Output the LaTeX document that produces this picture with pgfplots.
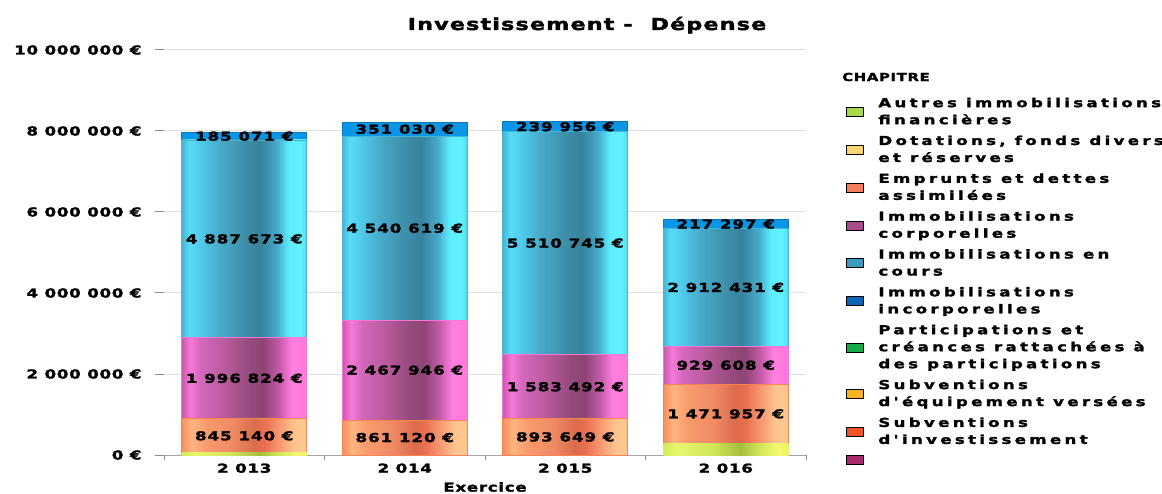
\documentclass[border=0pt]{standalone}
\usepackage{pgfplots}
\pgfplotsset{compat=1.18}
\usepackage{pgfplotstable}
\usepackage{fontspec}
\setmainfont{DejaVu Sans}
\newfontfamily\labfont{DejaVu Sans Bold}[FakeStretch=1.35, LetterSpace=8, FakeBold=2.2]
\newfontfamily\legfont{DejaVu Sans Bold}[FakeStretch=1.35, LetterSpace=27, FakeBold=2.0]
\newfontfamily\tickfont{DejaVu Sans Bold}[FakeStretch=1.35, LetterSpace=6, FakeBold=2.0]
\newfontfamily\titlefont{DejaVu Sans Bold}[FakeStretch=1.35, LetterSpace=7, FakeBold=2.4]

% legend colours
\definecolor{legAutres}{HTML}{A8D84C}
\definecolor{legDotations}{HTML}{FCD470}
\definecolor{legEmprunts}{HTML}{F47E5C}
\definecolor{legCorp}{HTML}{A84E8C}
\definecolor{legCours}{HTML}{3C9CC0}
\definecolor{legIncorp}{HTML}{0A64B8}
\definecolor{legParticip}{HTML}{18AA48}
\definecolor{legSubvEq}{HTML}{F9B220}
\definecolor{legSubvInv}{HTML}{EE5426}
\definecolor{legAutre}{HTML}{A82C6E}

% bar shading colours
\definecolor{cy0}{HTML}{48B4D4}\definecolor{cy1}{HTML}{58DCF8}
\definecolor{cy2}{HTML}{50CCEC}\definecolor{cy3}{HTML}{48AACA}
\definecolor{cy4}{HTML}{3D8FAA}\definecolor{cy5}{HTML}{38829C}
\definecolor{cy6}{HTML}{46AACB}\definecolor{cy7}{HTML}{5EEEFF}
\definecolor{cy8}{HTML}{60F2FF}\definecolor{cy9}{HTML}{52D8F0}
\definecolor{pk0}{HTML}{C85AAE}\definecolor{pk1}{HTML}{F878D8}
\definecolor{pk2}{HTML}{D468BC}\definecolor{pk3}{HTML}{B85A9C}
\definecolor{pk4}{HTML}{944A7C}\definecolor{pk5}{HTML}{8E4474}
\definecolor{pk6}{HTML}{C45CA8}\definecolor{pk7}{HTML}{FF7EE0}
\definecolor{pk8}{HTML}{FF78D8}
\definecolor{or0}{HTML}{F8905E}\definecolor{or1}{HTML}{FFB482}
\definecolor{or2}{HTML}{F89A6C}\definecolor{or3}{HTML}{F08A64}
\definecolor{or4}{HTML}{DA6C4C}\definecolor{or5}{HTML}{E87050}
\definecolor{or6}{HTML}{F89872}\definecolor{or7}{HTML}{FFC48E}
\definecolor{or8}{HTML}{FFC890}
\definecolor{gr0}{HTML}{D4EC58}\definecolor{gr1}{HTML}{E6F66C}
\definecolor{gr2}{HTML}{D0E45A}\definecolor{gr3}{HTML}{A4BE3C}
\definecolor{gr4}{HTML}{D4E85A}\definecolor{gr5}{HTML}{F2F870}
\definecolor{gr6}{HTML}{ECF46A}
\definecolor{blTop}{HTML}{0A96E6}

\pgfdeclarehorizontalshading{barCours}{100bp}{color(0bp)=(cy0); color(25bp)=(cy0);
  color(28bp)=(cy1); color(32bp)=(cy2); color(40bp)=(cy3); color(50bp)=(cy4);
  color(56.5bp)=(cy5); color(63bp)=(cy6); color(68bp)=(cy7); color(72.5bp)=(cy8);
  color(75bp)=(cy9); color(100bp)=(cy9)}
\pgfdeclarehorizontalshading{barCorp}{100bp}{color(0bp)=(pk0); color(25bp)=(pk0);
  color(28.5bp)=(pk1); color(32.5bp)=(pk2); color(42.5bp)=(pk3); color(52.5bp)=(pk4);
  color(57.5bp)=(pk5); color(64bp)=(pk6); color(69bp)=(pk7);
  color(75bp)=(pk8); color(100bp)=(pk8)}
\pgfdeclarehorizontalshading{barEmprunts}{100bp}{color(0bp)=(or0); color(25bp)=(or0);
  color(29bp)=(or1); color(35bp)=(or2); color(45bp)=(or3); color(54bp)=(or4);
  color(58bp)=(or5); color(64bp)=(or6); color(70bp)=(or7);
  color(75bp)=(or8); color(100bp)=(or8)}
\pgfdeclarehorizontalshading{barAutres}{100bp}{color(0bp)=(gr0); color(25bp)=(gr0);
  color(31bp)=(gr1); color(45bp)=(gr2); color(56bp)=(gr3); color(64bp)=(gr4);
  color(71bp)=(gr5); color(75bp)=(gr6); color(100bp)=(gr6)}

\pgfplotstableread{
x  autres  emprunts  corp     cours    incorp
0  50000   845140    1996824  4887673  185071
1  0       861120    2467946  4540619  351030
2  0       893649    1583492  5510745  239956
3  280000  1471957   929608   2912431  217297
}\depenses

\pgfplotsset{
  base axis/.style={
    at={(164pt,38pt)}, anchor=south west,
    scale only axis, width=642pt, height=405pt,
    ybar stacked, bar width=125pt,
    xmin=-0.5, xmax=3.5, ymin=0, ymax=10000000,
  },
  % value labels, centred in their segment
  seg labels/.style={
    point meta=explicit symbolic,
    nodes near coords={\pgfmathprintnumber[fixed, precision=0, 1000 sep={\ }, assume math mode=true]{\pgfplotspointmeta}\ €},
    every node near coord/.append style={anchor=center, text=black, inner sep=0pt,
      font=\fontsize{12.3}{14}\labfont},
  },
  autres bar/.style={forget plot, draw=none, shade, shading=barAutres, shading angle=0},
  emprunts bar/.style={forget plot, draw=or0!90!red, line width=0.8pt, shade, shading=barEmprunts, shading angle=0, seg labels},
  corp bar/.style={forget plot, draw=pk7!80!pk0, line width=0.8pt, shade, shading=barCorp, shading angle=0, seg labels},
  cours bar/.style={forget plot, draw=cy0, line width=0.8pt, shade, shading=barCours, shading angle=0, seg labels},
  incorp bar/.style={forget plot, draw=blTop!80!black, line width=0.8pt, fill=blTop, seg labels},
  chap/.style={legend image code/.code={\fill[##1] (0pt,-4.5pt) rectangle (17pt,4.5pt);}},
}

% the five stacked segments of one year (x between #1 and #2)
\newcommand\yearbars[2]{%
  \addplot[autres bar, restrict x to domain=#1:#2] table[x=x, y=autres] {\depenses};
  \addplot[emprunts bar, restrict x to domain=#1:#2] table[x=x, y=emprunts, meta=emprunts] {\depenses};
  \addplot[corp bar, restrict x to domain=#1:#2] table[x=x, y=corp, meta=corp] {\depenses};
  \addplot[cours bar, restrict x to domain=#1:#2] table[x=x, y=cours, meta=cours] {\depenses};
  \addplot[incorp bar, restrict x to domain=#1:#2] table[x=x, y=incorp, meta=incorp] {\depenses};
}

\begin{document}
\begin{tikzpicture}
\useasboundingbox (0,0) rectangle (1162pt,493pt);
\begin{axis}[
  base axis,
  xtick={0,1,2,3}, xticklabels={2 013, 2 014, 2 015, 2 016},
  minor xtick={-0.5,0.5,1.5,2.5,3.5},
  ytick={0,2000000,4000000,6000000,8000000,10000000},
  yticklabels={0 €, 2 000 000 €, 4 000 000 €, 6 000 000 €, 8 000 000 €, 10 000 000 €},
  scaled y ticks=false,
  axis x line*=bottom, axis y line*=left,
  y axis line style={draw=none},
  x axis line style={draw=black!35, line width=1pt},
  ymajorgrids, grid style={draw=black!12, line width=1pt},
  tick align=outside,
  major x tick style={draw=none},
  minor x tick style={draw=black!45, line width=0.8pt}, minor tick length=5pt,
  y tick style={draw=black!45, line width=1pt}, major tick length=9pt,
  ticklabel style={font=\fontsize{12.3}{14}\tickfont, text=black},
  yticklabel style={xshift=-10pt},
  xticklabel style={yshift=4pt},
  xlabel={Exercice},
  xlabel style={font=\fontsize{12.3}{14}\tickfont, at={(axis description cs:0.5,0)}, anchor=center, yshift=-32pt},
  legend cell align=left,
  legend style={at={(axis description cs:1.0623,0.882)}, anchor=north west,
    draw=none, fill=none, inner sep=0pt, outer sep=0pt, row sep=10pt,
    font=\fontsize{12.3}{17}\legfont,
    cells={align=left},
    nodes={inner sep=0pt},
    /tikz/every odd column/.append style={column sep=15pt}},
]
\yearbars{-0.2}{0.2}

\addlegendimage{chap, fill=legAutres}
\addlegendentry{Autres immobilisations\\financières}
\addlegendimage{chap, fill=legDotations}
\addlegendentry{Dotations, fonds divers\\et réserves}
\addlegendimage{chap, fill=legEmprunts}
\addlegendentry{Emprunts et dettes\\assimilées}
\addlegendimage{chap, fill=legCorp}
\addlegendentry{Immobilisations\\corporelles}
\addlegendimage{chap, fill=legCours}
\addlegendentry{Immobilisations en\\cours}
\addlegendimage{chap, fill=legIncorp}
\addlegendentry{Immobilisations\\incorporelles}
\addlegendimage{chap, fill=legParticip}
\addlegendentry{Participations et\\créances rattachées à\\des participations}
\addlegendimage{chap, fill=legSubvEq}
\addlegendentry{Subventions\\d'équipement versées}
\addlegendimage{chap, fill=legSubvInv}
\addlegendentry{Subventions\\d'investissement}
\addlegendimage{chap, fill=legAutre}
\addlegendentry{}
\end{axis}
% one axis per year, so that every bar gets its own shading
\begin{axis}[base axis, hide axis]
\yearbars{0.8}{1.2}
\end{axis}
\begin{axis}[base axis, hide axis]
\yearbars{1.8}{2.2}
\end{axis}
\begin{axis}[base axis, hide axis]
\yearbars{2.8}{3.2}
\end{axis}
\node[anchor=base, inner sep=0pt, font=\fontsize{16.5}{18}\titlefont] at (587pt,463pt) {Investissement -\ \ Dépense};
\node[anchor=west, inner sep=0pt, font=\fontsize{11}{13}\tickfont] at (842pt,416pt) {CHAPITRE};
\end{tikzpicture}
\end{document}
